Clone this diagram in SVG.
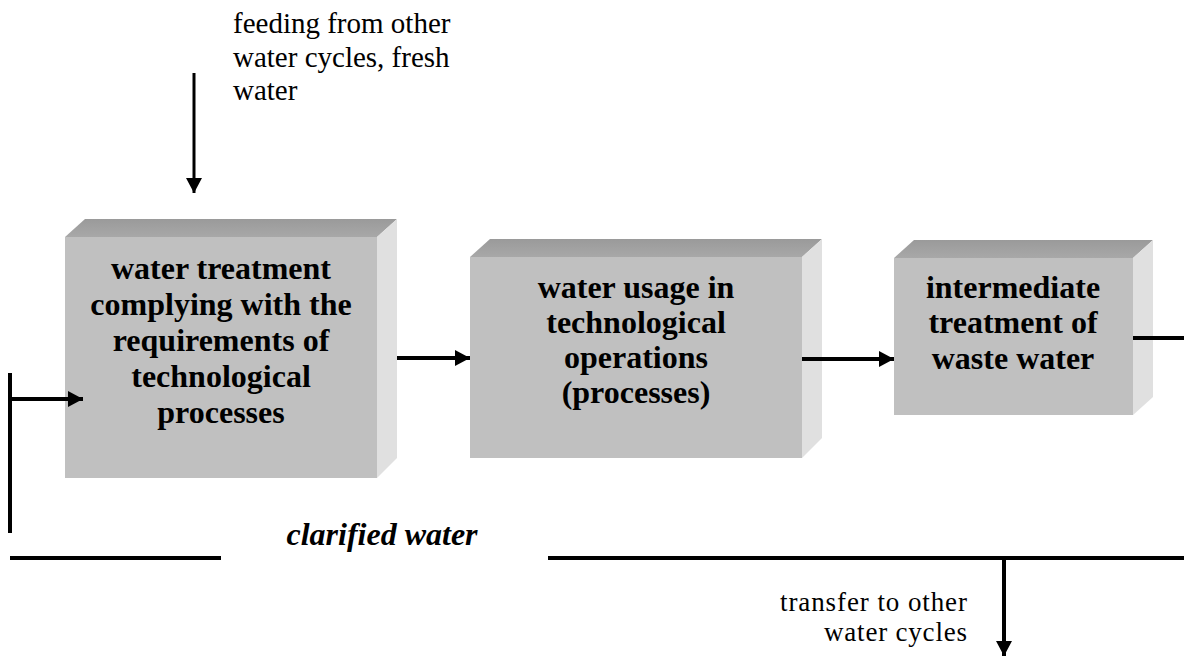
<svg xmlns="http://www.w3.org/2000/svg" width="1184" height="656" viewBox="0 0 1184 656">
  <style>
    .front { fill: #c0c0c0; }
    .top { fill: url(#topShade); }
    .side { fill: #e0e0e0; }
    .label { font-family: "Liberation Serif", "Times New Roman", serif; font-weight: bold; font-size: 32px; fill: #000; text-anchor: middle; }
    .note { font-family: "Liberation Serif", "Times New Roman", serif; font-size: 29px; fill: #000; }
    .small { font-size: 27px; }
    .flow { stroke: #000; stroke-width: 4; fill: none; }
    .thin { stroke: #000; stroke-width: 3; fill: none; }
  </style>
  <defs>
    <linearGradient id="topShade" x1="0" y1="0" x2="0" y2="1">
      <stop offset="0" stop-color="#9a9a9a"/>
      <stop offset="1" stop-color="#a8a8a8"/>
    </linearGradient>
    <marker id="head" markerUnits="userSpaceOnUse" markerWidth="16" markerHeight="16" viewBox="0 0 16 16" refX="15" refY="8" orient="auto">
      <path d="M0,0 L15,8 L0,16 Z" fill="#000"/>
    </marker>
  </defs>

  <rect width="1184" height="656" fill="#fff"/>

  <!-- water treatment block -->
  <g id="node-treatment">
    <polygon class="top" points="65,237 85,219 397,219 377,237"/>
    <polygon class="side" points="377,237 397,219 397,458 377,478"/>
    <rect class="front" x="65" y="237" width="312" height="241"/>
    <text class="label" x="221" y="279">water treatment</text>
    <text class="label" x="221" y="315">complying with the</text>
    <text class="label" x="221" y="351">requirements of</text>
    <text class="label" x="221" y="387">technological</text>
    <text class="label" x="221" y="423">processes</text>
  </g>

  <!-- water usage block -->
  <g id="node-usage">
    <polygon class="top" points="470,257 490,239 822,239 802,257"/>
    <polygon class="side" points="802,257 822,239 822,438 802,458"/>
    <rect class="front" x="470" y="257" width="332" height="201"/>
    <text class="label" x="636" y="298">water usage in</text>
    <text class="label" x="636" y="333">technological</text>
    <text class="label" x="636" y="368">operations</text>
    <text class="label" x="636" y="403">(processes)</text>
  </g>

  <!-- intermediate treatment block -->
  <g id="node-intermediate">
    <polygon class="top" points="894,258 914,240 1153,240 1133,258"/>
    <polygon class="side" points="1133,258 1153,240 1153,397 1133,415"/>
    <rect class="front" x="894" y="258" width="239" height="157"/>
    <text class="label" x="1013" y="298">intermediate</text>
    <text class="label" x="1013" y="333">treatment of</text>
    <text class="label" x="1013" y="369">waste water</text>
  </g>

  <!-- flows between blocks -->
  <g id="connectors">
    <line class="thin" x1="194" y1="73" x2="194" y2="193" marker-end="url(#head)"/>
    <line class="flow" x1="397" y1="358" x2="470" y2="358" marker-end="url(#head)"/>
    <line class="flow" x1="802" y1="359" x2="894" y2="359" marker-end="url(#head)"/>
    <line class="flow" x1="1133" y1="338" x2="1184" y2="338"/>
    <line class="flow" x1="10" y1="373" x2="10" y2="533"/>
    <line class="flow" x1="8" y1="399" x2="83" y2="399" marker-end="url(#head)"/>
    <line class="flow" x1="10" y1="558" x2="221" y2="558"/>
    <line class="flow" x1="548" y1="558" x2="1184" y2="558"/>
    <line class="flow" x1="1004" y1="556" x2="1004" y2="656" marker-end="url(#head)"/>
  </g>

  <!-- flow labels -->
  <g id="labels">
    <text class="note" x="233" y="33">feeding from other</text>
    <text class="note" x="233" y="67">water cycles, fresh</text>
    <text class="note" x="233" y="100">water</text>
    <text class="label" x="382" y="545" font-style="italic">clarified water</text>
    <text class="note small" x="967" y="611" text-anchor="end" textLength="187">transfer to other</text>
    <text class="note small" x="967" y="641" text-anchor="end" textLength="143">water cycles</text>
  </g>
</svg>
